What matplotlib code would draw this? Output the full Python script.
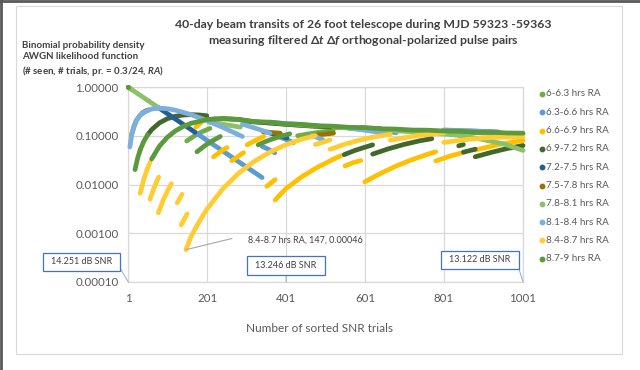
import matplotlib
matplotlib.use('Agg')
import matplotlib.pyplot as plt
from matplotlib.lines import Line2D
from matplotlib.patches import Rectangle, ConnectionPatch

plt.rcParams['font.family'] = ['Lato', 'DejaVu Sans']
plt.rcParams['mathtext.fontset'] = 'custom'
plt.rcParams['mathtext.rm'] = 'Lato:bold'
plt.rcParams['mathtext.it'] = 'Lato:italic:bold'
plt.rcParams['mathtext.bf'] = 'Lato:bold'

# ---- data: (trial number, binomial probability) segments per RA bin ----
labels = ['6-6.3 hrs RA', '6.3-6.6 hrs RA', '6.6-6.9 hrs RA', '6.9-7.2 hrs RA',
          '7.2-7.5 hrs RA', '7.5-7.8 hrs RA', '7.8-8.1 hrs RA', '8.1-8.4 hrs RA',
          '8.4-8.7 hrs RA', '8.7-9 hrs RA']
colors = ['#70AD47', '#5B9BD5', '#FFC000', '#43682B', '#255E91',
          '#997300', '#8CC168', '#7CAFDD', '#FFCD33', '#5B9A3C']

ra_60 = [
    ([1, 9], [0.9875, 0.893]),
    ([9, 15, 22, 30, 38, 42], [0.1005, 0.155, 0.209, 0.258, 0.295, 0.309]),
    ([149, 170, 190, 208], [0.078, 0.1015, 0.1233, 0.1415]),
    ([300, 360, 420, 480, 540, 600, 660, 720, 780, 840, 900, 960, 1001],
     [0.198, 0.182, 0.167, 0.154, 0.148, 0.141, 0.133, 0.126, 0.124, 0.119, 0.114, 0.110, 0.109]),
    ([430, 475, 520], [0.100, 0.115, 0.128]),
]
ra_63 = [
    ([170, 340], [0.1178, 0.01388]),
    ([340, 356, 372], [0.0606, 0.0527, 0.0448]),
    ([372, 396, 420], [0.1034, 0.0867, 0.0724]),
    ([560, 600, 640, 680], [0.143, 0.133, 0.124, 0.116]),
    ([800, 870, 940], [0.131, 0.126, 0.119]),
]
ra_66 = [
    ([9, 11], [0.1005, 0.1198]),
    ([30, 32], [0.048, 0.054]),
    ([172, 185], [0.150, 0.185]),
    ([217, 234, 251], [0.0368, 0.047, 0.0571]),
    ([263, 293], [0.0307, 0.045]),
    ([302, 323, 344], [0.065, 0.080, 0.096]),
    ([352, 373], [0.0092, 0.0126]),
    ([373, 400, 440, 480, 520, 540], [0.0048, 0.0082, 0.0143, 0.0225, 0.0329, 0.039]),
    ([550, 570, 590], [0.024, 0.028, 0.031]),
    ([600, 640, 680, 720, 760, 780], [0.0113, 0.0169, 0.024, 0.0324, 0.042, 0.047]),
    ([780, 815, 850], [0.0305, 0.038, 0.0455]),
    ([880, 940, 1001], [0.051, 0.066, 0.080]),
]
ra_69 = [
    ([1, 3], [0.9875, 0.963]),
    ([36, 44, 52], [0.290, 0.317, 0.338]),
    ([50, 60, 80, 100, 120, 140, 160, 180, 200],
     [0.1045, 0.133, 0.184, 0.224, 0.251, 0.266, 0.271, 0.267, 0.257]),
    ([200, 220, 250, 280, 320, 360, 400, 440, 480, 520, 540],
     [0.214, 0.2215, 0.2233, 0.216, 0.193, 0.183, 0.172, 0.164, 0.157, 0.150, 0.148]),
    ([548, 575, 600, 620], [0.041, 0.050, 0.058, 0.065]),
    ([620, 660, 700, 740, 770], [0.042, 0.054, 0.0665, 0.079, 0.087]),
    ([838, 850], [0.062, 0.066]),
    ([850, 880], [0.046, 0.053]),
    ([880, 920, 960, 1001], [0.037, 0.0455, 0.0545, 0.063]),
]
ra_72 = [
    ([77, 170], [0.3796, 0.1178]),
    ([360, 403], [0.114, 0.090]),
]
ra_75 = [
    ([343, 386], [0.120, 0.113]),
    ([480, 521], [0.104, 0.113]),
    ([590, 640], [0.146, 0.140]),
]
ra_78 = [
    ([1, 77], [0.9875, 0.3796]),
    ([205, 245, 285], [0.190, 0.170, 0.150]),
    ([430, 480], [0.170, 0.160]),
    ([520, 600, 680, 760, 830], [0.150, 0.138, 0.126, 0.115, 0.104]),
    ([830, 870, 910, 950, 1001], [0.104, 0.093, 0.080, 0.0686, 0.050]),
]
ra_81 = [
    ([5, 10, 20, 30, 40, 60, 80, 100, 120, 160, 200, 240, 290],
     [0.0587, 0.110, 0.195, 0.258, 0.303, 0.354, 0.368, 0.358, 0.335, 0.271, 0.205, 0.149, 0.0966]),
    ([290, 325, 360], [0.173, 0.141, 0.113]),
    ([360, 400, 430], [0.190, 0.178, 0.172]),
    ([466, 495], [0.102, 0.082]),
    ([563, 605, 647], [0.144, 0.128, 0.114]),
    ([800, 870, 937], [0.130, 0.125, 0.119]),
]
ra_84 = [
    ([31, 40, 48, 56], [0.0066, 0.0126, 0.0198, 0.0284]),
    ([56, 64, 72, 78], [0.00497, 0.0077, 0.0111, 0.0142]),
    ([77, 88, 99, 110], [0.00263, 0.0045, 0.0070, 0.0104]),
    ([125, 137], [0.0042, 0.0063]),
    ([135, 150], [0.00148, 0.0025]),
    ([147, 160, 180, 200, 240, 280, 320, 360, 400, 440, 475],
     [0.00046, 0.00086, 0.0017, 0.0031, 0.0081, 0.0169, 0.0298, 0.0463, 0.0653, 0.0849, 0.1003]),
    ([475, 512], [0.066, 0.082]),
    ([512, 550, 589, 620, 665], [0.0527, 0.0675, 0.082, 0.0934, 0.107]),
    ([665, 720, 760, 800], [0.081, 0.097, 0.107, 0.114]),
    ([800, 860, 920, 1001], [0.073, 0.084, 0.092, 0.096]),
]
ra_87 = [
    ([1, 2], [0.9875, 0.975]),
    ([18, 25, 32, 40, 50], [0.0202, 0.0357, 0.0536, 0.0758, 0.1045]),
    ([60, 80, 100, 120, 140, 160, 200, 240],
     [0.0332, 0.0613, 0.0933, 0.1255, 0.155, 0.180, 0.214, 0.224]),
    ([240, 280, 320, 360, 400, 440, 480, 520, 560, 600, 640, 680, 720, 760, 800, 840, 880, 920, 960, 1001],
     [0.224, 0.216, 0.195, 0.190, 0.1755, 0.1714, 0.1606, 0.157, 0.149, 0.1465, 0.139, 0.137,
      0.131, 0.130, 0.125, 0.1237, 0.119, 0.119, 0.114, 0.113]),
    ([175, 195, 215, 234], [0.0469, 0.0627, 0.0795, 0.0966]),
    ([330, 350, 370, 390, 410], [0.0651, 0.0767, 0.0881, 0.099, 0.1097]),
]
series = [ra_60, ra_63, ra_66, ra_69, ra_72, ra_75, ra_78, ra_81, ra_84, ra_87]

x_ticks = [1, 201, 401, 601, 801, 1001]
y_ticks = [0.0001, 0.001, 0.01, 0.1, 1.0]

snr_labels = ['14.251 dB SNR', '13.246 dB SNR', '13.122 dB SNR']
snr_x = [1, 401, 1001]
peak_label = '8.4-8.7 hrs RA, 147, 0.00046'
peak_n, peak_p = 147, 0.00046

W, H = 640, 370
fig = plt.figure(figsize=(W / 100, H / 100), dpi=100)
fig.patch.set_facecolor('white')

def fx(px):
    return px / W

def fy(py):
    return 1 - py / H

# chart area border + dark screenshot edge
fig.add_artist(Rectangle((fx(16), fy(354)), fx(622) - fx(16), fy(6) - fy(354),
                         transform=fig.transFigure, fill=False, ec='#D9D9D9', lw=0.8))
fig.add_artist(Line2D([0, 1], [0.997, 0.997], transform=fig.transFigure, color='#5a5a5a', lw=2))
fig.add_artist(Line2D([0.002, 0.002], [0, 1], transform=fig.transFigure, color='#5a5a5a', lw=2))

ax = fig.add_axes([fx(128.3), fy(282), fx(523) - fx(128.3), fy(87) - fy(282)])
ax.set_yscale('log')

for segs, c in zip(series, colors):
    for n, p in segs:
        ax.plot(n, p, color=c, lw=3.4, solid_capstyle='round',
                solid_joinstyle='round', clip_on=False, zorder=3)

ax.set_xlim(1, 1001)
ax.set_ylim(1e-4, 1)
ax.set_xticks(x_ticks)
ax.set_yticks(y_ticks)
ax.set_yticklabels(['%.5f' % v for v in y_ticks])
ax.minorticks_off()
ax.grid(True, color='#D9D9D9', lw=0.9)
ax.set_axisbelow(True)
for s in ax.spines.values():
    s.set_color('#D9D9D9')
    s.set_linewidth(0.9)
ax.tick_params(length=0, labelsize=8.3, colors='#595959')
ax.tick_params(axis='x', pad=8)
ax.tick_params(axis='y', pad=7)

# titles
fig.text(fx(363), fy(24), '40-day beam transits of 26 foot telescope during MJD 59323 -59363',
         ha='center', va='center', fontsize=8.8, fontweight='bold', color='#404040')
fig.text(fx(363), fy(40), r'measuring filtered $\Delta t\ \Delta f$ orthogonal-polarized pulse pairs',
         ha='center', va='center', fontsize=8.8, fontweight='bold', color='#404040')
fig.text(fx(22), fy(41), 'Binomial probability density\nAWGN likelihood function\n'
         r'(# seen, # trials, pr. = 0.3/24, $RA$)',
         ha='left', va='top', fontsize=7, fontweight='bold', color='#404040', linespacing=1.32)
fig.text(fx(320), fy(329), 'Number of sorted SNR trials', ha='center', va='center',
         fontsize=8.5, color='#595959')

# legend
for i, (lab, c) in enumerate(zip(labels, colors)):
    yy = fy(94 + 18.3 * i)
    fig.add_artist(Line2D([fx(541.5)], [yy], transform=fig.transFigure, marker='o',
                          ms=3.2, color=c, ls='none'))
    fig.text(fx(546), yy, lab, ha='left', va='center', fontsize=7.1, color='#595959')

# SNR callout boxes
boxes = [(43, 253, 120, 271, 120, 268), (247, 256, 325, 275, 286, 275), (441, 251, 519, 269, 519, 269)]
for lab, xv, (x0, y0, x1, y1, cx, cy) in zip(snr_labels, snr_x, boxes):
    con = ConnectionPatch(xyA=(xv, 1e-4), coordsA=ax.transData, xyB=(fx(cx), fy(cy)),
                          coordsB=fig.transFigure, color='#8FAADC', lw=0.7)
    fig.add_artist(con)
    fig.add_artist(Rectangle((fx(x0), fy(y1)), fx(x1) - fx(x0), fy(y0) - fy(y1),
                             transform=fig.transFigure, fc='white', ec='#4472C4', lw=0.9))
    fig.text(fx((x0 + x1) / 2), fy((y0 + y1) / 2), lab, ha='center', va='center',
             fontsize=6.5, color='#404040')

# peak label
con = ConnectionPatch(xyA=(peak_n, peak_p), coordsA=ax.transData, xyB=(fx(232), fy(238.5)),
                      coordsB=fig.transFigure, color='#A6A6A6', lw=0.8)
fig.add_artist(con)
fig.text(fx(248), fy(240), peak_label, ha='left', va='center', fontsize=6.5, color='#404040')

fig.savefig('out.png', dpi=100)
